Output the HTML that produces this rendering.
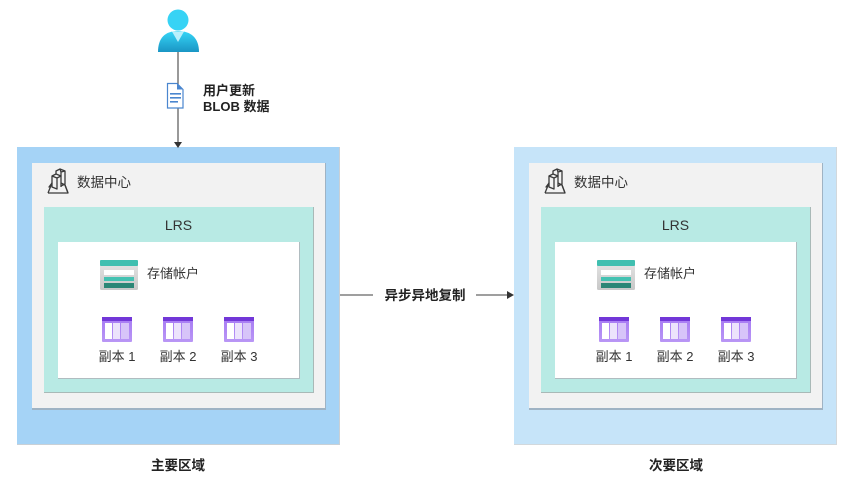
<!DOCTYPE html>
<html><head><meta charset="utf-8"><style>
html,body{margin:0;padding:0;background:#fff;}
body{width:854px;height:486px;overflow:hidden;position:relative;font-family:"Liberation Sans","Noto Sans CJK SC",sans-serif;}
svg{position:absolute;left:0;top:0;}
</style></head><body>
<svg width="854" height="486" viewBox="0 0 854 486" xmlns="http://www.w3.org/2000/svg">
<defs>
<linearGradient id="ug" x1="0" y1="0" x2="0" y2="1">
<stop offset="0" stop-color="#36d6f7"/><stop offset="1" stop-color="#1a95c4"/>
</linearGradient>
<linearGradient id="sg" x1="0" y1="0" x2="0" y2="1">
<stop offset="0" stop-color="#e6e6e6"/><stop offset="1" stop-color="#c8c8c8"/>
</linearGradient>
<linearGradient id="pg" x1="0" y1="0" x2="0" y2="1">
<stop offset="0" stop-color="#a67af4"/><stop offset="1" stop-color="#b996f5"/>
</linearGradient>
<g id="region">
  <rect x="32" y="163" width="294" height="247" fill="#9fb3c4"/>
  <rect x="32" y="163" width="293" height="245" fill="#f2f2f2"/>
  <!-- datacenter icon -->
  <g fill="none" stroke="#3a3a3a" stroke-width="1.3" stroke-linejoin="round">
    <path d="M48 193 L68 193 L65 185 L61 183 M52 183 L49 187 Z"/>
    <path d="M48 193 L52 183 M68 193 L65 185"/>
    <path d="M52 176 L52 187 L57 189 L57 178 Z"/>
    <path d="M52 176 L56 174 L61 176 L57 178"/>
    <path d="M56 174 L56 171 L60 169 L65 171 L65 184 L61 186"/>
    <path d="M60 169 L61 172 L65 171 M61 172 L61 187"/>
  </g>
  <text x="77" y="187" font-size="13.5" fill="#333">数据中心</text>
  <rect x="44" y="207" width="270" height="186" fill="#a9b9b7"/>
  <rect x="44" y="207" width="269" height="185" fill="#b8eae4"/>
  <text x="178.5" y="230" font-size="14" fill="#333" text-anchor="middle">LRS</text>
  <rect x="58" y="242" width="242" height="137" fill="#b0bcc0"/>
  <rect x="58" y="242" width="241" height="136" fill="#ffffff"/>
  <!-- storage icon -->
  <rect x="100" y="260" width="38" height="30" rx="1.5" fill="url(#sg)"/>
  <rect x="100" y="260" width="38" height="6" rx="1" fill="#40bfb0"/>
  <rect x="104" y="270" width="30" height="5" fill="#ffffff"/>
  <rect x="104" y="277" width="30" height="4" fill="#44c2b2"/>
  <rect x="104" y="283" width="30" height="5" fill="#2b8676"/>
  <text x="147" y="278" font-size="13" fill="#333">存储帐户</text>
  <!-- replicas -->
  <g id="rep">
    <rect x="102" y="317" width="30" height="25" rx="1" fill="url(#pg)"/>
    <rect x="102" y="317" width="30" height="4" fill="#7237d8"/>
    <rect x="105" y="323" width="7" height="16" fill="#ffffff"/>
    <rect x="113" y="323" width="7" height="16" fill="#ece3fc"/>
    <rect x="121" y="323" width="8" height="16" fill="#d7c4f9"/>
  </g>
  <use href="#rep" x="61"/>
  <use href="#rep" x="122"/>
  <text x="117" y="361" font-size="13" fill="#333" text-anchor="middle">副本 1</text>
  <text x="178" y="361" font-size="13" fill="#333" text-anchor="middle">副本 2</text>
  <text x="239" y="361" font-size="13" fill="#333" text-anchor="middle">副本 3</text>
</g>
</defs>

<!-- left region -->
<rect x="17" y="147" width="323" height="298" fill="#c9d0d6"/>
<rect x="17" y="147" width="322" height="297" fill="#a5d3f6"/>
<use href="#region"/>
<!-- right region -->
<rect x="514" y="147" width="323" height="298" fill="#d2d8dc"/>
<rect x="514" y="147" width="322" height="297" fill="#c6e4f9"/>
<use href="#region" x="497"/>

<text x="178" y="470" font-size="13.5" font-weight="bold" fill="#222" text-anchor="middle">主要区域</text>
<text x="676" y="470" font-size="13.5" font-weight="bold" fill="#222" text-anchor="middle">次要区域</text>

<!-- vertical arrow -->
<line x1="178" y1="52" x2="178" y2="143" stroke="#555" stroke-width="1.2"/>
<path d="M174 142 L182 142 L178 148 Z" fill="#333"/>
<!-- user icon -->
<path d="M158 52 C158 38 165 31 178 31 C191 31 199 38 199 52 Z" fill="url(#ug)"/>
<path d="M172 31.5 L184 31.5 L178 42 Z" fill="#b9f0fc"/>
<circle cx="178" cy="20" r="10.5" fill="#37d3f5"/>
<!-- doc icon -->
<path d="M167.5 83.5 L177 83.5 L183 89.5 L183 108 L167.5 108 Z" fill="#fff" stroke="#4a86cf" stroke-width="1.2"/>
<path d="M177 83.5 L177 89.5 L183 89.5 Z" fill="#4a86cf"/>
<rect x="170" y="93" width="11" height="1.6" fill="#4a86cf"/>
<rect x="170" y="97" width="11" height="1.6" fill="#4a86cf"/>
<rect x="170" y="101" width="8" height="1.6" fill="#4a86cf"/>
<text x="203" y="95" font-size="13" font-weight="bold" fill="#222">用户更新</text>
<text x="203" y="111" font-size="13" font-weight="bold" fill="#222">BLOB 数据</text>

<!-- horizontal arrow -->
<line x1="340" y1="295" x2="373" y2="295" stroke="#666" stroke-width="1.2"/>
<line x1="476" y1="295" x2="508" y2="295" stroke="#666" stroke-width="1.2"/>
<path d="M507 291 L514 295 L507 299 Z" fill="#333"/>
<text x="425" y="300" font-size="13.5" font-weight="bold" fill="#222" text-anchor="middle">异步异地复制</text>
</svg>
</body></html>
